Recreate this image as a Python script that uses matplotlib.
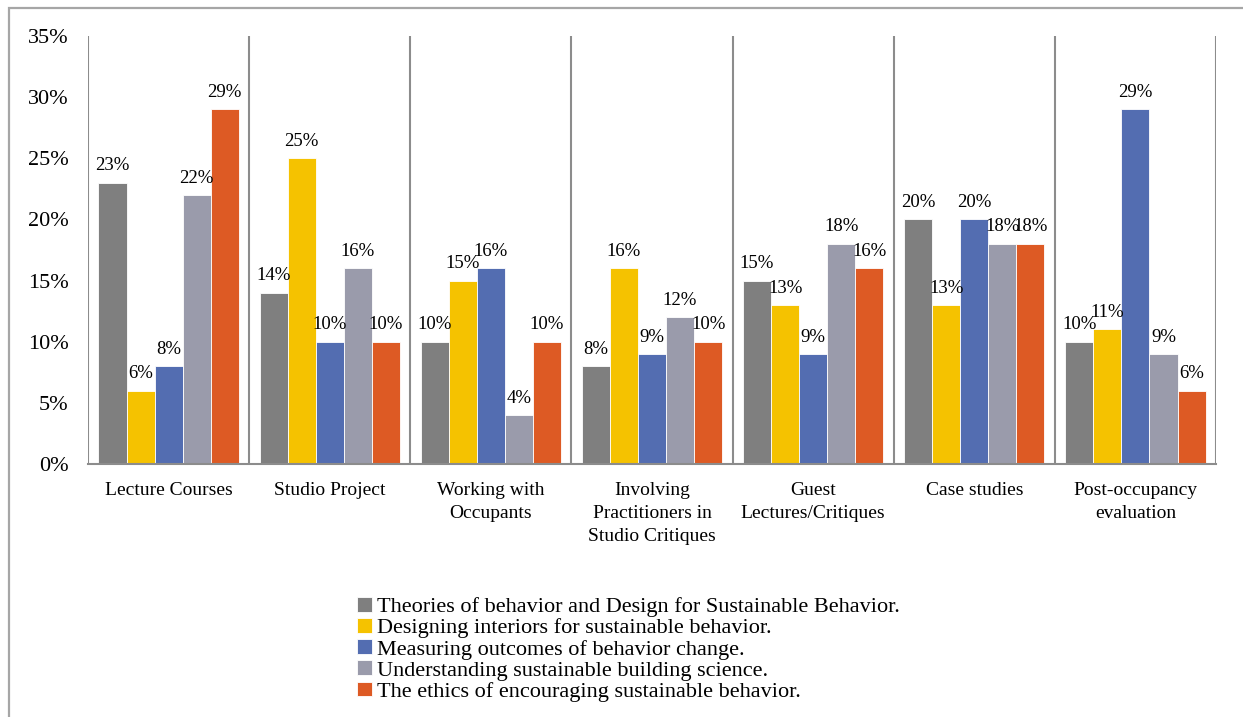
import numpy as np
import matplotlib.pyplot as plt
from matplotlib.patches import Rectangle

plt.rcParams['font.family'] = ['Liberation Serif', 'DejaVu Serif']

categories = ['Lecture Courses', 'Studio Project', 'Working with\nOccupants',
              'Involving\nPractitioners in\nStudio Critiques', 'Guest\nLectures/Critiques',
              'Case studies', 'Post-occupancy\nevaluation']

series_names = ['Theories of behavior and Design for Sustainable Behavior.',
                'Designing interiors for sustainable behavior.',
                'Measuring outcomes of behavior change.',
                'Understanding sustainable building science.',
                'The ethics of encouraging sustainable behavior.']

theories = [23, 14, 10, 8, 15, 20, 10]
interiors = [6, 25, 15, 16, 13, 13, 11]
measuring = [8, 10, 16, 9, 9, 20, 29]
building_sci = [22, 16, 4, 12, 18, 18, 9]
ethics = [29, 10, 10, 10, 16, 18, 6]

colors = ['#7f7f7f', '#f5c200', '#536db1', '#9a9bab', '#dd5a24']

values = [theories, interiors, measuring, building_sci, ethics]

fig = plt.figure(figsize=(12.43, 7.17), dpi=100)
ax = fig.add_axes([0.0708, 0.3529, 0.9075, 0.597])

# outer frame
fig.patches.append(Rectangle((9 / 1243, -0.05), 1.2, 1.05 - 8 / 717,
                             transform=fig.transFigure, fill=False,
                             edgecolor='#a6a6a6', linewidth=1.6))

x = np.arange(len(categories))
width = 0.174
for i, (vals, name, c) in enumerate(zip(values, series_names, colors)):
    pos = x + (i - 2) * width
    bars = ax.bar(pos, vals, width, color=c, edgecolor='white', linewidth=0.6, label=name)
    for b, v in zip(bars, vals):
        ax.annotate(f'{v}%', (b.get_x() + b.get_width() / 2, v),
                    xytext=(0, 6), textcoords='offset points',
                    ha='center', va='bottom', fontsize=13.5)

# group separators
for s in np.arange(-0.5, len(categories), 1.0):
    ax.axvline(s, color='#8c8c8c', linewidth=1.5, zorder=0)

ax.set_xlim(-0.5, len(categories) - 0.5)
ax.set_ylim(0, 35)
ax.set_yticks(range(0, 36, 5))
ax.set_yticklabels([f'{t}%' for t in range(0, 36, 5)], fontsize=16)
ax.set_xticks(x)
ax.set_xticklabels(categories, fontsize=14, linespacing=1.46, va='top')
ax.tick_params(axis='y', length=0, pad=14)
ax.tick_params(axis='x', length=0, pad=13)
for side in ['top', 'right', 'left']:
    ax.spines[side].set_visible(False)
ax.spines['bottom'].set_color('#8c8c8c')
ax.spines['bottom'].set_linewidth(1.5)

fig.legend(loc='upper left', bbox_to_anchor=(346 / 1243, 1 - 586 / 717),
           frameon=False, fontsize=16, handlelength=0.65, handleheight=0.65,
           handletextpad=0.25, labelspacing=0.04, borderpad=0)

fig.savefig('out.png', dpi=100)
